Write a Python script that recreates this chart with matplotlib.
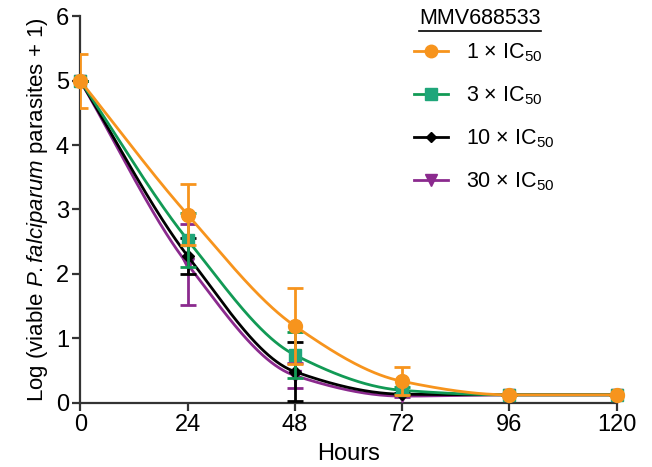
import numpy as np
import matplotlib
matplotlib.use("Agg")
import matplotlib.pyplot as plt
from matplotlib.lines import Line2D

plt.rcParams['font.family'] = ['Liberation Sans', 'DejaVu Sans']
plt.rcParams['mathtext.fontset'] = 'custom'
plt.rcParams['mathtext.rm'] = 'Liberation Sans'
plt.rcParams['mathtext.it'] = 'Liberation Sans:italic'

hours = [0, 24, 48, 72, 96, 120]
labels = ["1 × IC$_{50}$", "3 × IC$_{50}$", "10 × IC$_{50}$", "30 × IC$_{50}$"]
vals_1x = [5.0, 2.92, 1.19, 0.33, 0.12, 0.12]
err_1x = [0.42, 0.48, 0.59, 0.22, 0.0, 0.0]
vals_3x = [5.0, 2.53, 0.74, 0.19, 0.12, 0.12]
err_3x = [0.0, 0.42, 0.36, 0.05, 0.0, 0.0]
vals_10x = [5.0, 2.28, 0.48, 0.13, 0.12, 0.12]
err_10x = [0.0, 0.28, 0.46, 0.02, 0.0, 0.0]
vals_30x = [5.0, 2.15, 0.42, 0.10, 0.12, 0.12]
err_30x = [0.0, 0.63, 0.20, 0.02, 0.0, 0.0]

colors = ["#F7941D", "#129A55", "#000000", "#8B2A8E"]
mfc = ["#F7941D", "#1FA67A", "#000000", "#8B2A8E"]
markers = ["o", "s", "D", "v"]
msizes = [10, 9, 6, 9]


def pchip(x, y, xn):
    x = np.asarray(x, float); y = np.asarray(y, float)
    h = np.diff(x); d = np.diff(y) / h
    n = len(x); m = np.zeros(n)
    for k in range(1, n - 1):
        if d[k - 1] * d[k] > 0:
            w1 = 2 * h[k] + h[k - 1]; w2 = h[k] + 2 * h[k - 1]
            m[k] = (w1 + w2) / (w1 / d[k - 1] + w2 / d[k])
    m[0] = d[0]; m[-1] = 0
    out = np.empty_like(xn)
    idx = np.clip(np.searchsorted(x, xn) - 1, 0, n - 2)
    for i, xv in enumerate(xn):
        k = idx[i]; t = (xv - x[k]) / h[k]
        h00 = 2*t**3 - 3*t**2 + 1; h10 = t**3 - 2*t**2 + t
        h01 = -2*t**3 + 3*t**2; h11 = t**3 - t**2
        out[i] = h00*y[k] + h10*h[k]*m[k] + h01*y[k+1] + h11*h[k]*m[k+1]
    return out


fig = plt.figure(figsize=(6.52, 4.67), dpi=100)
ax = fig.add_axes([0.123, 0.138, 0.823, 0.827])

series = [(vals_30x, err_30x, 3), (vals_10x, err_10x, 2), (vals_3x, err_3x, 1), (vals_1x, err_1x, 0)]
xs = np.linspace(0, 120, 400)
for vals, errs, i in series:
    z = 3 + (4 - i)
    ax.plot(xs, pchip(hours, vals, xs), color=colors[i], lw=2.0, zorder=z)
    ax.errorbar(hours, vals, yerr=errs, fmt='none', ecolor=colors[i], elinewidth=2.0,
                capsize=6, capthick=2.0, zorder=z)
    ax.plot(hours, vals, linestyle='none', marker=markers[i], ms=msizes[i],
            color=mfc[i], mec=mfc[i], zorder=z + 0.5, clip_on=False)

ax.set_xlim(0, 120)
ax.set_ylim(0, 6)
ax.set_xticks(hours)
ax.set_yticks(range(0, 7))
for s in ['top', 'right']:
    ax.spines[s].set_visible(False)
for s in ['left', 'bottom']:
    ax.spines[s].set_linewidth(1.6)
    ax.spines[s].set_color('#333333')
ax.tick_params(axis='both', labelsize=17, width=1.6, length=6, color='#333333', pad=2)
ax.set_xlabel("Hours", fontsize=17, labelpad=5)
ax.set_ylabel("Log (viable $\\it{P. falciparum}$ parasites + 1)", fontsize=16, labelpad=4)

handles = [Line2D([0], [0], color=colors[i], lw=2.0, marker=markers[i], ms=msizes[i] - 1,
                  mfc=mfc[i], mec=mfc[i]) for i in range(4)]
leg = ax.legend(handles, labels, loc='upper left', bbox_to_anchor=(0.622, 0.935), frameon=False,
                fontsize=15.5, handlelength=1.6, handletextpad=0.8, labelspacing=0.95,
                borderaxespad=0, borderpad=0)

t = fig.text(0.643, 0.983, "MMV688533", fontsize=15.5, ha='left', va='top')
fig.canvas.draw()
bb = t.get_window_extent().transformed(fig.transFigure.inverted())
fig.add_artist(Line2D([bb.x0, bb.x1], [bb.y0 - 0.004, bb.y0 - 0.004], color='black', lw=1.2,
                      transform=fig.transFigure))

fig.savefig("out.png", dpi=100)
